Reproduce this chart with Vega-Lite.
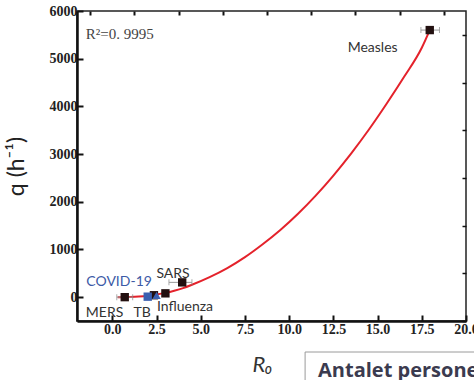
{
  "$schema": "https://vega.github.io/schema/vega-lite/v6.json",
  "autosize": "none",
  "width": 389,
  "height": 310,
  "padding": {"left": 77, "top": 11, "right": 8, "bottom": 59},
  "background": "white",
  "config": {
    "view": {"stroke": "#222", "strokeWidth": 1.5},
    "axis": {"grid": false}
  },
  "datasets": {
    "curve": [
      {"r0": 0.3, "q": 0}, {"r0": 0.5, "q": 0}, {"r0": 1.0, "q": 3}, {"r0": 1.5, "q": 12},
      {"r0": 2.0, "q": 28}, {"r0": 2.5, "q": 55}, {"r0": 3.0, "q": 90}, {"r0": 3.5, "q": 135},
      {"r0": 4.0, "q": 190}, {"r0": 4.5, "q": 260}, {"r0": 5.5, "q": 420}, {"r0": 6.5, "q": 610},
      {"r0": 7.5, "q": 840}, {"r0": 8.5, "q": 1110}, {"r0": 9.5, "q": 1410}, {"r0": 10.5, "q": 1750},
      {"r0": 11.5, "q": 2130}, {"r0": 12.5, "q": 2550}, {"r0": 13.5, "q": 3010}, {"r0": 14.5, "q": 3510},
      {"r0": 15.5, "q": 4050}, {"r0": 16.5, "q": 4620}, {"r0": 17.5, "q": 5230}, {"r0": 17.95, "q": 5600}
    ],
    "points": [
      {"name": "Measles", "group": "black", "r0": 17.95, "q": 5600, "lo": 17.45, "hi": 18.5},
      {"name": "SARS", "group": "black", "r0": 3.95, "q": 310, "lo": 3.2, "hi": 4.5},
      {"name": "MERS", "group": "black", "r0": 0.7, "q": 0, "lo": 0.25, "hi": 1.15},
      {"name": "Influenza", "group": "black", "r0": 2.35, "q": 40, "lo": 2.35, "hi": 2.35},
      {"name": "Influenza2", "group": "black", "r0": 3.0, "q": 80, "lo": 3.0, "hi": 3.0},
      {"name": "TB", "group": "blue square", "r0": 2.0, "q": 10, "lo": 2.0, "hi": 2.0},
      {"name": "COVID-19", "group": "blue triangle", "r0": 2.5, "q": 35, "lo": 2.5, "hi": 2.5}
    ],
    "labels": [
      {"label": "Measles", "r0": 14.72, "q": 5218, "c": "#333333"},
      {"label": "SARS", "r0": 3.43, "q": 485, "c": "#333333"},
      {"label": "COVID-19", "r0": 0.38, "q": 323, "c": "#3c5aa6"},
      {"label": "MERS", "r0": -0.44, "q": -327, "c": "#333333"},
      {"label": "TB", "r0": 1.68, "q": -327, "c": "#333333"},
      {"label": "Influenza", "r0": 4.11, "q": -201, "c": "#333333"}
    ]
  },
  "resolve": {"axis": {"x": "independent", "y": "independent"}},
  "layer": [
    {
      "data": {"name": "curve"},
      "mark": {"type": "line", "color": "#e4222b", "strokeWidth": 2, "interpolate": "monotone"},
      "encoding": {
        "x": {"field": "r0", "type": "quantitative",
              "scale": {"domain": [-2, 20], "nice": false, "zero": false},
              "axis": {"values": [0, 2.5, 5, 7.5, 10, 12.5, 15, 17.5, 20], "format": ".1f", "zindex": 2,
                       "title": "R₀", "titleFont": "Lato", "titleFontStyle": "italic", "titleFontWeight": "normal",
                       "titleFontSize": 22, "titleColor": "#333", "titlePadding": 18, "titleX": 185,
                       "labelFont": "Liberation Serif", "labelFontWeight": "bold", "labelFontSize": 14,
                       "labelColor": "#222", "labelPadding": 7, "labelFlush": false,
                       "domainColor": "#111", "domainWidth": 2.5, "ticks": true, "tickColor": "#111", "tickWidth": 2, "tickSize": -6}},
        "y": {"field": "q", "type": "quantitative",
              "scale": {"domain": [-500, 6000], "nice": false, "zero": false},
              "axis": {"values": [0, 1000, 2000, 3000, 4000, 5000, 6000], "format": "d", "zindex": 2,
                       "title": "q (h⁻¹)", "titleFont": "Lato", "titleFontWeight": "normal",
                       "titleFontSize": 23, "titleColor": "#222", "titlePadding": 21,
                       "labelFont": "Liberation Serif", "labelFontWeight": "bold", "labelFontSize": 14,
                       "labelColor": "#222", "labelPadding": 6,
                       "domainColor": "#111", "domainWidth": 2.5, "ticks": true, "tickColor": "#111", "tickWidth": 2, "tickSize": -6}}
      }
    },
    {
      "data": {"name": "points"},
      "mark": {"type": "errorbar", "ticks": {"color": "#888", "size": 6}, "rule": {"color": "#999", "strokeWidth": 1}},
      "encoding": {
        "x": {"field": "lo", "type": "quantitative", "scale": {"domain": [-2, 20], "nice": false, "zero": false},
              "axis": {"values": [-1.25, 1.25, 3.75, 6.25, 8.75, 11.25, 13.75, 16.25, 18.75], "labels": false, "zindex": 2,
                       "domain": false, "title": null, "ticks": true, "tickColor": "#111", "tickWidth": 2, "tickSize": -4}},
        "x2": {"field": "hi"},
        "y": {"field": "q", "type": "quantitative", "scale": {"domain": [-500, 6000], "nice": false, "zero": false},
              "axis": {"values": [-500, 500, 1500, 2500, 3500, 4500, 5500], "labels": false, "zindex": 2,
                       "domain": false, "title": null, "ticks": true, "tickColor": "#111", "tickWidth": 1.5, "tickSize": -4}}
      }
    },
    {
      "data": {"name": "points"},
      "mark": {"type": "point", "filled": true, "size": 70, "opacity": 1},
      "encoding": {
        "x": {"field": "r0", "type": "quantitative", "scale": {"domain": [-2, 20], "nice": false, "zero": false}, "axis": null},
        "y": {"field": "q", "type": "quantitative", "scale": {"domain": [-500, 6000], "nice": false, "zero": false}, "axis": null},
        "color": {"field": "group", "type": "nominal", "legend": null,
                  "scale": {"domain": ["black", "blue square", "blue triangle"], "range": ["#221010", "#3a5fb0", "#3a5fb0"]}},
        "shape": {"field": "group", "type": "nominal", "legend": null,
                  "scale": {"domain": ["black", "blue square", "blue triangle"], "range": ["square", "square", "triangle-up"]}}
      }
    },
    {
      "data": {"name": "labels"},
      "mark": {"type": "text", "font": "Lato", "fontSize": 14, "align": "center", "baseline": "middle"},
      "encoding": {
        "x": {"field": "r0", "type": "quantitative", "scale": {"domain": [-2, 20], "nice": false, "zero": false}, "axis": null},
        "y": {"field": "q", "type": "quantitative", "scale": {"domain": [-500, 6000], "nice": false, "zero": false}, "axis": null},
        "text": {"field": "label"},
        "color": {"field": "c", "type": "nominal", "scale": null}
      }
    },
    {
      "data": {"values": [{"r0": -1.5, "q": 5518, "t": "R²=0. 9995"}]},
      "mark": {"type": "text", "font": "Liberation Serif", "fontSize": 15, "align": "left", "baseline": "middle", "color": "#444"},
      "encoding": {
        "x": {"field": "r0", "type": "quantitative", "scale": {"domain": [-2, 20], "nice": false, "zero": false}, "axis": null},
        "y": {"field": "q", "type": "quantitative", "scale": {"domain": [-500, 6000], "nice": false, "zero": false}, "axis": null},
        "text": {"field": "t"}
      }
    },
    {
      "data": {"values": [{"x1": 10.9, "x2": 23, "y1": -1150, "y2": -1900}]},
      "mark": {"type": "rect", "fill": "white", "stroke": "#9a9a9a", "strokeWidth": 1, "clip": false},
      "encoding": {
        "x": {"field": "x1", "type": "quantitative", "scale": {"domain": [-2, 20], "nice": false, "zero": false}, "axis": null},
        "x2": {"field": "x2"},
        "y": {"field": "y1", "type": "quantitative", "scale": {"domain": [-500, 6000], "nice": false, "zero": false}, "axis": null},
        "y2": {"field": "y2"}
      }
    },
    {
      "data": {"values": [{"r0": 11.63, "q": -1674, "t": "Antalet persone"}]},
      "mark": {"type": "text", "font": "Open Sans", "fontWeight": "bold", "fontSize": 20, "align": "left", "baseline": "alphabetic", "color": "#3b3b4f", "clip": false},
      "encoding": {
        "x": {"field": "r0", "type": "quantitative", "scale": {"domain": [-2, 20], "nice": false, "zero": false}, "axis": null},
        "y": {"field": "q", "type": "quantitative", "scale": {"domain": [-500, 6000], "nice": false, "zero": false}, "axis": null},
        "text": {"field": "t"}
      }
    }
  ]
}
